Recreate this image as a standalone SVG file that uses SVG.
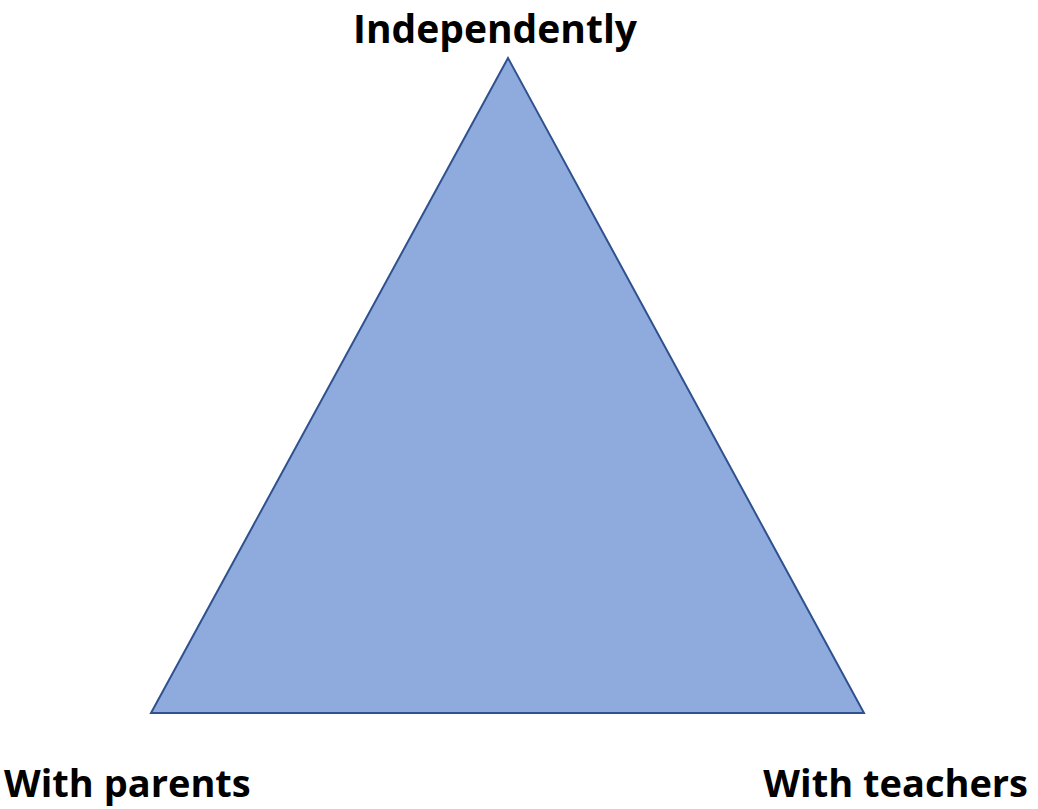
<svg xmlns="http://www.w3.org/2000/svg" width="1038" height="809" viewBox="0 0 1038 809">
<style>
.lbl{font-family:"Open Sans","Liberation Sans",sans-serif;font-weight:bold;font-size:38px;fill:#000}
.tri{fill:#8FAADC;stroke:#2F528F;stroke-width:2}
</style>
<rect width="1038" height="809" fill="#fff"/>
<g id="triangle">
<polygon class="tri" points="508,58 151,713 864,713"/>
</g>
<g id="label-top"><text class="lbl" x="495" y="43" text-anchor="middle" style="font-size:39px">Independently</text></g>
<g id="label-left"><text class="lbl" x="4" y="797">With parents</text></g>
<g id="label-right"><text class="lbl" x="1028" y="797" text-anchor="end">With teachers</text></g>
<g id="connectors"></g>
</svg>
